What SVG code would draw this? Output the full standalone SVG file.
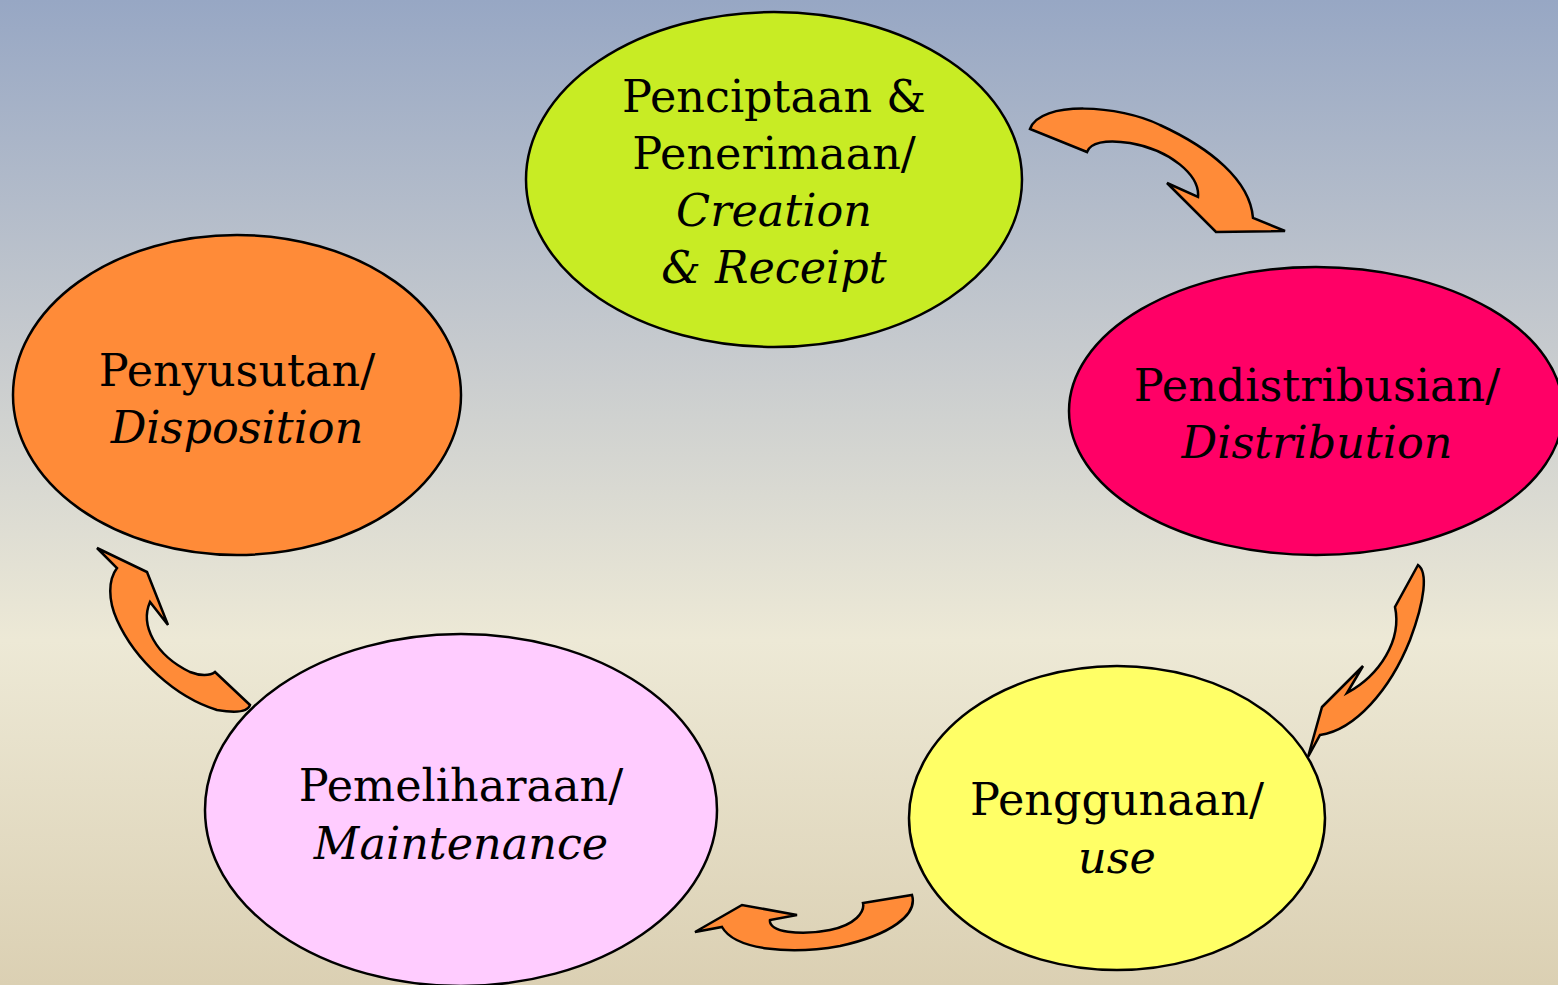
<svg xmlns="http://www.w3.org/2000/svg" width="1558" height="985" viewBox="0 0 1558 985">
<defs>
<linearGradient id="bg" x1="0" y1="0" x2="0" y2="1">
<stop offset="0" stop-color="#97a7c4"/>
<stop offset="0.35" stop-color="#c6cace"/>
<stop offset="0.65" stop-color="#ede9d6"/>
<stop offset="1" stop-color="#dbd0b3"/>
</linearGradient>
<style>
.n{stroke:#000;stroke-width:2.5}
.a{fill:#ff8b38;stroke:#000;stroke-width:2.5;stroke-linejoin:miter}
text{font-family:"DejaVu Serif","Liberation Serif",serif;font-size:44.5px;fill:#000;text-anchor:middle}
.i{font-style:italic}
</style>
</defs>
<rect width="1558" height="985" fill="url(#bg)"/>
<g id="creation">
<ellipse class="n" cx="774" cy="179.5" rx="248" ry="167.5" fill="#c8ec24"/>
<text x="774" y="112">Penciptaan &amp;</text>
<text x="774" y="169">Penerimaan/</text>
<text x="774" y="226" class="i">Creation</text>
<text x="774" y="283" class="i">&amp; Receipt</text>
</g>
<g id="distribution">
<ellipse class="n" cx="1316" cy="411" rx="247" ry="144" fill="#ff0066"/>
<text x="1317" y="401">Pendistribusian/</text>
<text x="1317" y="458" class="i">Distribution</text>
</g>
<g id="use">
<ellipse class="n" cx="1117" cy="818" rx="208" ry="152" fill="#ffff66"/>
<text x="1117" y="815">Penggunaan/</text>
<text x="1117" y="873" class="i">use</text>
</g>
<g id="maintenance">
<ellipse class="n" cx="461" cy="810" rx="256" ry="176" fill="#ffccff"/>
<text x="461" y="801">Pemeliharaan/</text>
<text x="461" y="859" class="i">Maintenance</text>
</g>
<g id="disposition">
<ellipse class="n" cx="237" cy="395" rx="224" ry="160" fill="#ff8b38"/>
<text x="237" y="386">Penyusutan/</text>
<text x="237" y="443" class="i">Disposition</text>
</g>
<g id="connectors">
<path class="a" d="M1030,129 C1040,100 1120,105 1160,125 C1210,148 1250,180 1253,218 L1285,231 L1216,232 L1167,183 L1198,197 C1200,175 1170,150 1130,143 C1105,139 1090,143 1087,152 Z"/>
<path class="a" d="M1418,565 L1395,607 C1402,640 1380,675 1347,693 L1363,666 L1322,707 L1308,757 L1320,735 C1355,730 1390,690 1410,640 C1425,600 1428,572 1418,565 Z"/>
<path class="a" d="M912,895 C918,915 890,935 840,946 C790,955 735,950 722,927 L695,932 L742,905 L797,915 L770,920 C768,932 800,936 830,930 C855,925 865,912 863,903 Z"/>
<path class="a" d="M97,548 L147,572 L168,625 L150,602 C140,625 155,655 190,672 C200,676 210,676 215,672 L250,705 C248,712 235,713 217,710 C175,697 135,660 117,620 C108,600 108,580 117,568 Z"/>
</g>
</svg>
